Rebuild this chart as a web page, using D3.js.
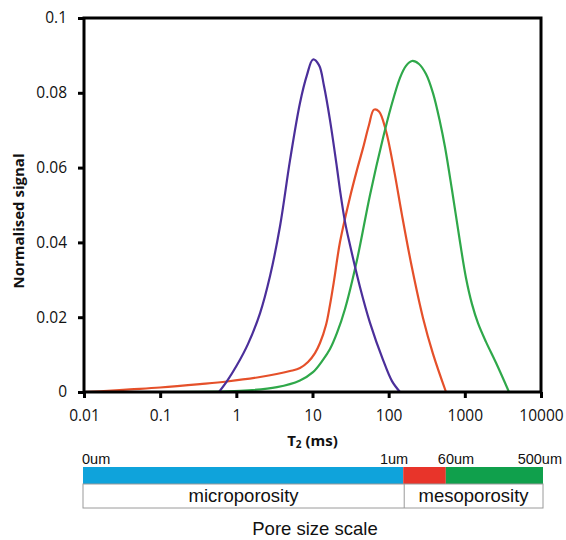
<!DOCTYPE html>
<html>
<head>
<meta charset="utf-8">
<script src="https://cdn.jsdelivr.net/npm/d3@7"></script>
<style>
  body { margin: 0; background: #fff; }
  text { font-family: "Open Sans", "Liberation Sans", sans-serif; fill: #111; }
</style>
</head>
<body>
<svg width="566" height="540"></svg>
<script>
// T2 (ms) vs normalised signal
const purple = [[0.592,0],[0.754,0.0029],[1.02,0.0072],[1.42,0.0128],[2.05,0.0211],[2.77,0.0310],
  [3.75,0.0444],[5.07,0.0620],[6.85,0.0773],[8.47,0.0848],[10.15,0.0889],[12.17,0.0874],[14.16,0.0818],
  [16.97,0.0727],[20.97,0.0599],[22.96,0.0540],[26.71,0.0455],[31.07,0.0393],[42.0,0.0281],
  [56.9,0.0185],[84.3,0.0086],[110.6,0.0029],[140.8,0],[10000,0]];
const red = [[0.01,0],[0.0162,0.0002],[0.0402,0.0007],[0.0995,0.0012],[0.333,0.0021],[0.754,0.0028],
  [2.05,0.0040],[5.07,0.0056],[6.85,0.0064],[8.73,0.0080],[10.78,0.0104],[12.54,0.0131],[15.04,0.0179],
  [16.97,0.0233],[19.15,0.0297],[22.96,0.0401],[31.07,0.0521],[38.38,0.0594],[46.03,0.0652],
  [55.16,0.0714],[64.18,0.0755],[74.65,0.0750],[92.24,0.0698],[117.5,0.0594],[149.6,0.0473],
  [202.4,0.0332],[282.3,0.0198],[382.0,0.0102],[565.8,0]];
const green = [[0.1,0],[1.117,0.0003],[3.42,0.0013],[6.85,0.0031],[10.15,0.0053],[13.73,0.0086],
  [16.97,0.0115],[20.97,0.0158],[26.71,0.0222],[38.38,0.0353],[56.9,0.0527],[84.3,0.0679],
  [107.3,0.0762],[140.8,0.0840],[168.9,0.0872],[202.4,0.0885],[250.1,0.0877],[309.2,0.0850],
  [382.0,0.0799],[471.9,0.0722],[549,0.0655],[678.5,0.0540],[864.3,0.0401],[1036,0.0305],
  [1242,0.0235],[1489,0.0184],[1896,0.0134],[2566,0.0078],[3800,0],[10000,0]];

const xTicks = [0.01, 0.1, 1, 10, 100, 1000, 10000];
const xTickLabels = ["0.01", "0.1", "1", "10", "100", "1000", "10000"];
const yTicks = [0, 0.02, 0.04, 0.06, 0.08, 0.1];
const yTickLabels = ["0", "0.02", "0.04", "0.06", "0.08", "0.1"];

// pore size scale: segment boundaries on the T2 axis
const poreBounds = [0.01, 160, 580, 10000];
const poreColors = ["#0fa3db", "#e8342a", "#10a04c"];
const poreLabels = ["0um", "1um", "60um", "500um"];
const poreClasses = ["microporosity", "mesoporosity"];

const svg = d3.select('svg');
const margin = {left: 84, top: 18, right: 25, bottom: 148};
const width = +svg.attr('width') - margin.left - margin.right;
const height = +svg.attr('height') - margin.top - margin.bottom;

const x = d3.scaleLog().domain([0.01, 10000]).range([0, width]);
const y = d3.scaleLinear().domain([0, 0.1]).range([height, 0]);

const g = svg.append('g').attr('transform', `translate(${margin.left},${margin.top})`);

const smooth = d3.line()
    .x(d => x(d[0]))
    .y(d => Math.min(y(d[1]), height))
    .curve(d3.curveCatmullRom.alpha(0.5));
const straight = d3.line()
    .x(d => x(d[0]))
    .y(d => y(d[1]));

const series = [
    {data: red, color: "#e5502a"},
    {data: green, color: "#2fa84a"},
    {data: purple, color: "#4b2f9a"}
];
// split each curve where it lands back on zero; the flat tail is drawn straight
series.forEach(s => {
    const end = s.data.findIndex((d, i) => i > 0 && d[1] === 0 && s.data[i - 1][1] > 0);
    s.peak = s.data.slice(0, end + 1);
    s.tail = s.data.slice(end);
});

const curves = g.selectAll('g.curve')
    .data(series)
    .enter()
    .append('g')
    .attr('class', 'curve');
curves.append('path')
    .attr('d', d => smooth(d.peak))
    .attr('fill', 'none')
    .attr('stroke', d => d.color)
    .attr('stroke-width', 2.2);
curves.filter(d => d.tail.length > 1)
    .append('path')
    .attr('d', d => straight(d.tail))
    .attr('fill', 'none')
    .attr('stroke', d => d.color)
    .attr('stroke-width', 2.2);

// frame
g.append('rect')
    .attr('width', width)
    .attr('height', height)
    .attr('fill', 'none')
    .attr('stroke', '#000')
    .attr('stroke-width', 3);

const yAxis = g.append('g')
    .call(d3.axisLeft(y).tickValues(yTicks).tickFormat((d, i) => yTickLabels[i]).tickSize(6).tickPadding(11));
const xAxis = g.append('g')
    .attr('transform', `translate(0,${height})`)
    .call(d3.axisBottom(x).tickValues(xTicks).tickFormat((d, i) => xTickLabels[i]).tickSize(6).tickPadding(12));

[yAxis, xAxis].forEach(a => {
    a.select('.domain').remove();
    a.selectAll('line').attr('stroke', '#000').attr('stroke-width', 3);
    a.selectAll('text').style('font-size', '15.5px').attr('fill', '#111');
});

g.append('text')
    .attr('transform', `translate(-60,203) rotate(-90)`)
    .attr('text-anchor', 'middle')
    .style('font-size', '15px')
    .style('font-weight', 'bold')
    .text('Normalised signal');

const xt = g.append('text')
    .attr('x', width / 2)
    .attr('y', height + 54)
    .attr('text-anchor', 'middle')
    .style('font-size', '15px')
    .style('font-weight', 'bold');
xt.append('tspan').text('T');
xt.append('tspan').style('font-size', '10px').attr('dy', 2).text('2');
xt.append('tspan').attr('dy', -2).text(' (ms)');

// pore size scale bar
const barTop = height + 75;
const barH = 17;
const boxH = 24;
const segs = d3.range(poreColors.length).map(i => ({x0: poreBounds[i], x1: poreBounds[i + 1], c: poreColors[i]}));
g.selectAll('rect.seg')
    .data(segs)
    .enter()
    .append('rect')
    .attr('class', 'seg')
    .attr('x', d => x(d.x0) - 1)
    .attr('y', barTop)
    .attr('width', d => x(d.x1) - x(d.x0) + (d.x1 === 10000 ? 3 : 0))
    .attr('height', barH)
    .attr('fill', d => d.c);

const split = x(poreBounds[1]);
const boxR = x(poreBounds[3]) + 2;
g.append('rect')
    .attr('x', -1)
    .attr('y', barTop + barH)
    .attr('width', boxR + 1)
    .attr('height', boxH)
    .attr('fill', '#fff')
    .attr('stroke', '#9a9a9a')
    .attr('stroke-width', 1);
g.append('line')
    .attr('x1', split).attr('x2', split)
    .attr('y1', barTop + barH).attr('y2', barTop + barH + boxH)
    .attr('stroke', '#9a9a9a');

const labelPos = [
    {x: x(poreBounds[0]) - 2, anchor: 'start'},
    {x: x(poreBounds[1]) + 4, anchor: 'end'},
    {x: x(poreBounds[2]) - 9, anchor: 'start'},
    {x: x(poreBounds[3]) + 21, anchor: 'end'}
];
g.selectAll('text.pl')
    .data(poreLabels)
    .enter()
    .append('text')
    .attr('class', 'pl')
    .attr('x', (d, i) => labelPos[i].x)
    .attr('y', barTop - 3)
    .attr('text-anchor', (d, i) => labelPos[i].anchor)
    .style('font-family', '"Liberation Sans", Arial, sans-serif')
    .style('font-size', '14.5px')
    .attr('fill', '#333')
    .text(d => d);

const classX = [(-1 + split) / 2, (split + boxR) / 2];
g.selectAll('text.pc')
    .data(poreClasses)
    .enter()
    .append('text')
    .attr('class', 'pc')
    .attr('x', (d, i) => classX[i])
    .attr('y', barTop + barH + 18)
    .attr('text-anchor', 'middle')
    .style('font-family', '"Liberation Sans", Arial, sans-serif')
    .style('font-size', '18.5px')
    .attr('fill', '#333')
    .text(d => d);

g.append('text')
    .attr('x', 231)
    .attr('y', barTop + barH + boxH + 27)
    .attr('text-anchor', 'middle')
    .style('font-family', '"Liberation Sans", Arial, sans-serif')
    .style('font-size', '18.5px')
    .attr('fill', '#333')
    .text('Pore size scale');
</script>
</body>
</html>
